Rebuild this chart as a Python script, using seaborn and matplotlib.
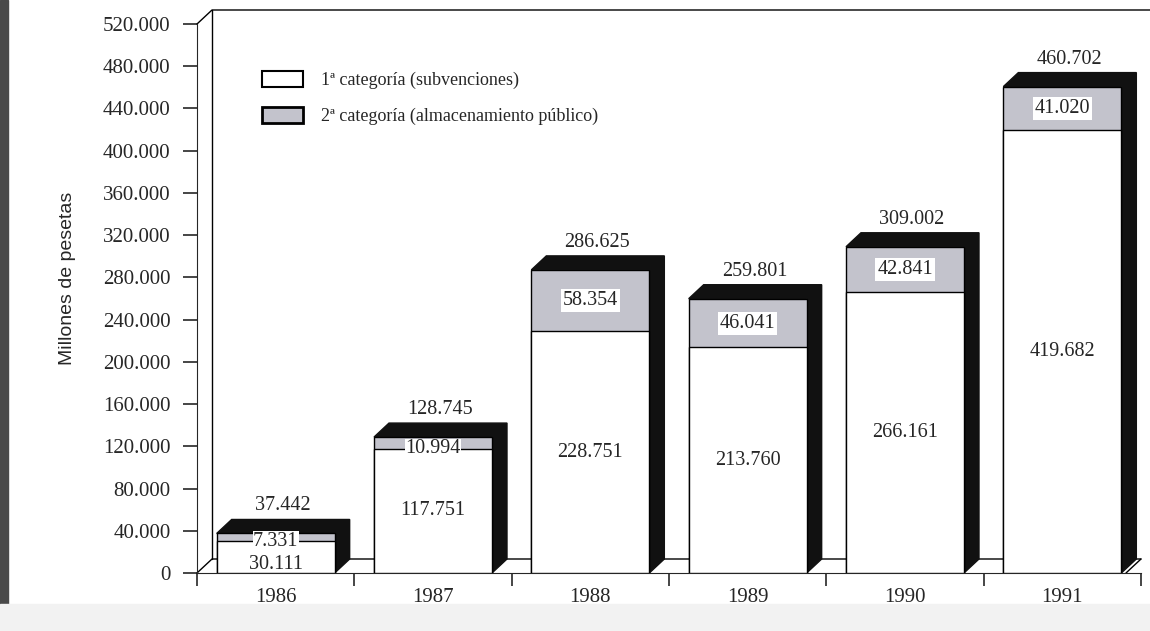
import seaborn as sns
import matplotlib.pyplot as plt
import numpy as np
import pandas as pd
from matplotlib.patches import Polygon, Patch, Rectangle
from matplotlib.ticker import FuncFormatter

# data (millones de pesetas)
years = ['1986', '1987', '1988', '1989', '1990', '1991']
cat1 = [30111, 117751, 228751, 213760, 266161, 419682]
cat2 = [7331, 10994, 58354, 46041, 42841, 41020]
totals = [37442, 128745, 286625, 259801, 309002, 460702]
labels = ['1ª categoría (subvenciones)', '2ª categoría (almacenamiento público)']

gray = '#c3c3cc'


def fmt(v):
    return f'{int(v):,}'.replace(',', '.')


sns.set_style('ticks')
plt.rcParams['font.family'] = ['Liberation Serif', 'DejaVu Serif']

fig = plt.figure(figsize=(11.5, 6.31), dpi=100)
# scan borders
fig.patches.append(Rectangle((0, 0), 0.007, 1, transform=fig.transFigure,
                             color='#4a4a4a', zorder=0))
fig.patches.append(Rectangle((0, 0), 1, 0.042, transform=fig.transFigure,
                             color='#f2f2f2', zorder=0))
ax = fig.add_axes([197 / 1150, 58 / 631, 944 / 1150, 549 / 631])
ax.set_zorder(1)

df = pd.DataFrame({'year': years, 'cat1': cat1, 'cat2': cat2})
df['stack'] = df['cat1'] + df['cat2']

bw = 0.75
sns.barplot(data=df, x='year', y='stack', color=gray, saturation=1,
            edgecolor='black', linewidth=1, width=bw, ax=ax, zorder=3)
sns.barplot(data=df, x='year', y='cat1', color='white', saturation=1,
            edgecolor='black', linewidth=1, width=bw, ax=ax, zorder=4)

ymax = 520000
ax.set_xlim(-0.5, 5.5)
ax.set_ylim(0, ymax)

# depth of the pseudo 3d effect, in data units
ddx = 15 * 6 / 944
ddy = 14 * ymax / 549

# black top and side faces
for i, top in enumerate(df['stack']):
    x0, x1 = i - bw / 2, i + bw / 2
    ax.add_patch(Polygon([(x0, top), (x0 + ddx, top + ddy), (x1 + ddx, top + ddy),
                          (x1 + ddx, ddy), (x1, 0), (x1, top)],
                         closed=True, facecolor='#111111', edgecolor='#111111',
                         zorder=2))

# floor and back wall
kw = dict(color='black', lw=1, clip_on=False, zorder=1)
ax.plot([-0.5, -0.5 + ddx, 5.5], [0, ddy, ddy], **kw)
ax.plot([5.5 - ddx, 5.5], [0, ddy], **kw)
ax.plot([-0.5 + ddx, -0.5 + ddx], [ddy, ymax + ddy], **kw)
ax.plot([-0.5, -0.5 + ddx, 5.62], [ymax, ymax + ddy, ymax + ddy], **kw)

# labels
fs = 14.5
for i in range(len(years)):
    if cat1[i] < 50000:
        # short bar: value sits at the bottom of the bar
        ax.annotate(fmt(cat1[i]), (i, 0), xytext=(0, -1), textcoords='offset points',
                    ha='center', va='bottom', fontsize=fs, zorder=6)
    else:
        ax.text(i, cat1[i] / 2, fmt(cat1[i]), ha='center', va='center',
                fontsize=fs, zorder=6)
    if cat2[i] < 20000:
        ypos = cat1[i]
        box = dict(facecolor='white', edgecolor='none', pad=0.3)
    else:
        ypos = cat1[i] + cat2[i] / 2
        box = dict(facecolor='white', edgecolor='none', pad=1.5)
    ax.text(i, ypos, fmt(cat2[i]), ha='center', va='center', fontsize=fs,
            bbox=box, zorder=6)
    ax.annotate(fmt(totals[i]), (i, df['stack'][i]), xytext=(5, 13),
                textcoords='offset points', ha='center', va='bottom',
                fontsize=fs, zorder=6)

# axes styling
sns.despine(ax=ax, top=True, right=True)
ax.spines['left'].set_bounds(0, ymax)
ax.spines['bottom'].set_bounds(-0.5, 5.5)
ax.set_yticks(np.arange(0, ymax + 1, 40000))
ax.yaxis.set_major_formatter(FuncFormatter(lambda v, p: fmt(v)))
ax.tick_params(axis='y', length=10, width=1.2, pad=9, labelsize=15)
ax.tick_params(axis='x', which='major', length=0, pad=11, labelsize=15)
ax.set_xticks(np.arange(-0.5, 6, 1), minor=True)
ax.tick_params(axis='x', which='minor', length=9, width=1.2)
ax.set_xlabel('')
ax.set_ylabel('Millones de pesetas', fontsize=14, family='Liberation Sans')
ax.yaxis.set_label_coords(-0.128, 0.537)

handles = [Patch(facecolor='white', edgecolor='black', lw=1.5),
           Patch(facecolor=gray, edgecolor='black', lw=2)]
ax.legend(handles, labels, loc='upper left', bbox_to_anchor=(0.069, 0.914),
          frameon=False, borderaxespad=0, borderpad=0, handlelength=2.25,
          handleheight=0.95, handletextpad=1.0, labelspacing=1.0, fontsize=13)

fig.savefig('out.png', dpi=100)
